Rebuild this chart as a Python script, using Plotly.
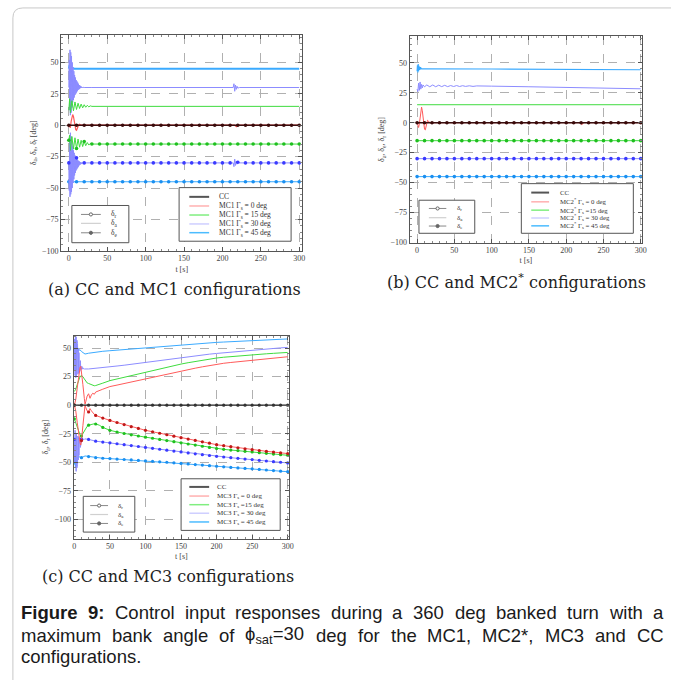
import re
import plotly.graph_objects as go

W, H = 676, 685

# ---------------------------------------------------------------- data
# common marker sampling times [s]
T_GRID = list(range(0, 301, 10))
T_HALF20 = [i * 0.5 for i in range(41)]      # 0 .. 20 s, 0.5 s steps
T_HALF15 = [i * 0.5 for i in range(31)]      # 0 .. 15 s, 0.5 s steps

# ---- (a) CC and MC1
A_CC_T = T_GRID
A_CC_V = [0.0] * len(T_GRID)

A_G0_T = [0, 2, 3, 4, 5, 6, 7, 8, 9, 10, 11, 12, 13, 14, 16, 20, 216, 218, 220, 222, 300]
A_G0_V = [0, -2, 3, 7, 8.5, 7, 3, -1, -3.5, -4, -3, -1, 0.5, 0.8, 0, 0, 0, -1.2, 0.3, 0, 0]

A_G15_UP_T = [0, 1, 2, 4, 6, 8, 10, 12, 14, 16, 18, 20, 22, 24, 26, 28, 30, 300]
A_G15_UP_V = [12, 21, 10, 19.5, 11.5, 18.5, 12.5, 17.5, 13.3, 16.8, 13.8, 16.3, 14.3, 15.8, 14.6, 15.4, 15, 15]
A_G15_LO_T = [0, 1, 2, 4, 6, 8, 10, 12, 14, 16, 18, 20, 22, 24, 26, 28] + T_GRID[3:]
A_G15_LO_V = [-12, -8, -20, -9, -19, -10, -18.5, -11, -17.5, -12, -17, -13, -16.3, -13.8, -15.8, -14.5] + [-15.0] * 28

A_G30_UP_T = T_HALF20 + [30, 214, 215, 216, 217, 218, 219, 220, 222, 300]
A_G30_UP_V = [30, 52, 12, 60, 8, 58, 10, 55, 14, 50, 18, 46, 20, 43, 22, 40, 24, 38, 25, 36,
              26, 35, 27, 34, 28, 33, 28.5, 32, 29, 31.5, 29.5, 31, 29.7, 30.6, 29.8, 30.4, 29.9, 30.2, 30, 30.1,
              30] + [30, 30, 33, 27, 32, 28.5, 31, 29.5, 30, 30]
A_G30_LO_T = T_HALF20 + T_GRID[3:22] + [214, 215, 216, 217, 218, 219, 220, 222] + T_GRID[23:]
A_G30_LO_V = [-30, -52, -10, -57, -6, -55, -9, -53, -13, -50, -17, -46, -20, -43, -22, -40, -24, -38, -25, -36,
              -26, -35, -27, -34, -28, -33, -28.5, -32, -29, -31.5, -29.5, -31, -29.7, -30.6, -29.8, -30.4, -29.9, -30.2, -30, -30.1,
              -30] + [-30.0] * 19 + [-30, -33, -27, -32, -28.5, -31, -29.5, -30] + [-30.0] * 8

A_G45_UP_T = [0, 1, 2, 3, 4, 5, 7, 300]
A_G45_UP_V = [45, 48, 42, 47, 44, 45.5, 45, 45]
A_G45_LO_T = [0, 1, 2, 3, 4, 5, 7] + T_GRID[1:]
A_G45_LO_V = [-45, -48, -42, -47, -44, -45.5, -45] + [-45.0] * 30

# ---- (b) CC and MC2*
B_CC_T = T_GRID
B_CC_V = [0.0] * len(T_GRID)

B_G0_T = [0, 1, 2, 3, 4, 5, 6, 7, 8, 9, 10, 11, 12, 13, 14, 15, 17, 20, 218, 221, 224, 300]
B_G0_V = [0, -2, -4, -1, 6, 12, 13, 10, 3, -3, -5.5, -6, -3, 0, 2, 1.5, 0, 0, 0, -1.5, 0, 0]

B_G15_UP_T = [0, 300]
B_G15_UP_V = [15, 15]
B_G15_LO_T = T_GRID
B_G15_LO_V = [-15.0] * len(T_GRID)

B_G30_UP_T = [0, 1, 2, 3, 4, 5, 6, 7, 8, 10, 13, 17, 21, 25, 29, 33, 37, 41, 45, 49,
              53, 57, 61, 65, 70, 75, 80, 90, 100, 150, 200, 250, 300]
B_G30_UP_V = [28, 26, 33, 27, 34, 28, 32, 29, 31.5, 30, 31.5, 30, 31.5, 30, 31.3, 30.1, 31.2, 30.1, 31, 30.2,
              31, 30.2, 30.9, 30.3, 30.8, 30.3, 30.7, 30.4, 30.5, 30, 29.4, 28.8, 28.3]
B_G30_LO_T = T_GRID
B_G30_LO_V = [-30.0] * len(T_GRID)

B_G45_UP_T = [0, 0.5, 1, 1.5, 2, 2.5, 3, 3.5, 4, 5, 6, 8, 10, 100, 200, 300]
B_G45_UP_V = [43, 48, 42, 49, 43, 47.5, 44, 46.5, 44.5, 45.8, 45, 45.3, 45, 44.8, 44.6, 44.2]
B_G45_LO_T = T_GRID
B_G45_LO_V = [-45.0] * len(T_GRID)

# ---- (c) CC and MC3
C_CC_T = T_GRID
C_CC_V = [0.0] * len(T_GRID)

C_G0_T = [0, 2, 4, 6, 8, 9, 10, 12, 14, 15, 16, 18, 20, 22, 24, 26, 28, 30] + T_GRID[4:]
C_G0_UP_V = [0, 5, 15, 26, 33, 34, 30, 18, 6, 1, 3, 8, 10, 6, 9, 10.5, 9.5, 11.5,
             14, 16.3, 17.6, 19, 20.4, 21.7, 23, 24.4, 25.8, 27.2, 28.6, 30, 31.2, 32.4, 33.6, 34.8,
             36, 36.7, 37.4, 38.1, 38.8, 39.5, 40.1, 40.7, 41.3, 41.8, 42.4]
C_G0_LO_V = [0, -5, -15, -26, -33, -35, -31, -18, -6, 0, -2, -5, -6, -3, -5, -7, -8, -9,
             -11.3, -13.4, -15.2, -17, -18.8, -20.4, -22, -23.3, -24.6, -25.9, -27.2, -28.5, -29.7, -30.9, -32.1, -33.3,
             -34.6, -35.5, -36.4, -37.3, -38.2, -39, -39.7, -40.4, -41.1, -41.8, -42.4]

C_G15_T = [0, 2, 4, 6, 8, 10, 12, 14, 16, 18, 20, 25, 28, 30, 35, 40] + T_GRID[5:]
C_G15_UP_V = [12, 14, 18, 22, 25, 26, 25, 23, 21, 19.5, 19, 17.5, 17, 17.2, 18, 19.3,
              21.5, 23, 24.5, 26, 27.4, 28.8, 30.3, 31.7, 33.1, 34.5, 36, 37.2, 38.3, 39.3, 40.3, 41.3,
              42, 42.6, 43.1, 43.7, 44.2, 44.6, 45, 45.4, 45.8, 46.2]
C_G15_LO_V = [-12, -16, -20, -24, -26, -27, -25, -22, -20, -18.5, -17.5, -16.5, -16.3, -16.5, -17.5, -19.5,
              -22, -23.5, -24.8, -26, -27, -28, -29, -30, -31, -32, -33, -34, -35, -36, -37, -38,
              -38.7, -39.3, -39.8, -40.4, -41, -41.6, -42.2, -42.8, -43.4, -43.9]

C_G30_T = T_HALF15 + T_GRID[2:]
C_G30_UP_V = [30, 58, 26, 62, 24, 60, 25, 57, 26, 54, 27, 50, 28, 46, 29, 42, 30, 39, 31, 36,
              31.5, 34, 31.5, 33, 31.5, 32.5, 31.5, 32, 31.6, 31.8, 31.7,
              31.7, 32.5, 33.2, 33.7, 34.3, 35, 35.8, 36.8, 38, 38.8, 39.6, 40.4, 41.2, 41.9, 42.6,
              43.3, 44, 44.7, 45.3, 45.9, 46.5, 47, 47.6, 48.3, 48.8, 49.3, 49.8, 50.2, 50.6]
C_G30_LO_V = [-30, -50, -22, -56, -24, -58, -25, -55, -26, -52, -27, -48, -28, -44, -29, -40, -29.5, -37, -29.5, -34,
              -29.5, -32, -29.5, -31, -29.5, -30.5, -29.5, -30, -29.5, -29.8, -29.5,
              -30, -31.5, -32.3, -33, -33.8, -34.6, -35.4, -36.2, -37, -37.8, -38.6, -39.4, -40.2, -41, -41.8,
              -42.6, -43.4, -44.1, -44.8, -45.4, -46, -46.6, -47.2, -47.7, -48.3, -48.9, -49.5, -50, -50.6]

C_G45_T = [0, 0.5, 1, 1.5, 2, 2.5, 3, 3.5, 4, 5, 6, 8, 10, 15] + T_GRID[2:]
C_G45_UP_V = [45, 55, 42, 58, 44, 56, 46, 52, 47, 50, 48, 48.5, 47, 44.8,
              45.5, 46.5, 47.2, 47.7, 48.2, 48.7, 49.2, 49.6, 50, 50.6, 51.2, 51.8, 52.4, 53,
              53.4, 53.9, 54.3, 54.7, 55, 55.3, 55.6, 55.9, 56.2, 56.4, 56.8, 57.1, 57.4, 57.7, 58]
C_G45_LO_V = [-45, -52, -42, -55, -44, -53, -46, -50, -46, -47, -45, -45.5, -46, -44.5,
              -45, -46, -46.5, -46.8, -47.2, -47.6, -48, -48.4, -48.8, -49.2, -49.6, -50, -50.5, -51,
              -51.5, -52, -52.5, -53, -53.5, -54, -54.5, -55, -55.4, -55.8, -56.3, -56.8, -57.3, -57.8, -58.3]

X_TICKS = [0, 50, 100, 150, 200, 250, 300]
Y_TICKS = [-100, -75, -50, -25, 0, 25, 50]

# ---------------------------------------------------------------- styling
COL = {
    "g0": "#ff5a5a", "g0m": "#c01818",
    "g15": "#3fdc3f", "g15m": "#1fbf1f",
    "g30": "#8c8cff", "g30m": "#3a3aff",
    "g45": "#3aaaff", "g45m": "#1a8ff0",
}
KEY_COL = ["#555555", "#ffb0b0", "#80ee80", "#cfcfff", "#4cbcff"]

SERIF = "Liberation Serif"


def px(x):
    return x / W


def py(y):
    return 1 - y / H


fig = go.Figure()


def add_curve(t, v, ax, color, width=1.0, mcolor=None, msize=3.6, name=None):
    fig.add_trace(go.Scatter(x=t, y=v, mode="lines", name=name,
                             line=dict(color=color, width=width),
                             xaxis=ax[0], yaxis=ax[1], showlegend=False, hoverinfo="skip"))
    if mcolor:
        mt = [a for a in t if a % 10 == 0]
        mv = [b for a, b in zip(t, v) if a % 10 == 0]
        fig.add_trace(go.Scatter(x=mt, y=mv, mode="markers", name=name,
                                 marker=dict(color=mcolor, size=msize, line=dict(width=0)),
                                 xaxis=ax[0], yaxis=ax[1], showlegend=False, hoverinfo="skip"))


AX_A = ("x", "y")
AX_B = ("x2", "y2")
AX_C = ("x3", "y3")

# (a)
add_curve(A_G45_UP_T, A_G45_UP_V, AX_A, COL["g45"], 2.0, name="MC1 45 up")
add_curve(A_G45_LO_T, A_G45_LO_V, AX_A, COL["g45"], 1.2, COL["g45m"], name="MC1 45 lo")
add_curve(A_G30_UP_T, A_G30_UP_V, AX_A, COL["g30"], 1.0, name="MC1 30 up")
add_curve(A_G30_LO_T, A_G30_LO_V, AX_A, COL["g30"], 1.0, COL["g30m"], name="MC1 30 lo")
add_curve(A_G15_UP_T, A_G15_UP_V, AX_A, COL["g15"], 1.0, name="MC1 15 up")
add_curve(A_G15_LO_T, A_G15_LO_V, AX_A, COL["g15"], 1.0, COL["g15m"], name="MC1 15 lo")
add_curve(A_G0_T, A_G0_V, AX_A, COL["g0"], 1.2, name="MC1 0")
add_curve(A_CC_T, A_CC_V, AX_A, "#3a1010", 1.6, "#3a0a0a", name="CC")

# (b)
add_curve(B_G45_UP_T, B_G45_UP_V, AX_B, COL["g45"], 1.2, name="MC2 45 up")
add_curve(B_G45_LO_T, B_G45_LO_V, AX_B, COL["g45"], 1.0, COL["g45m"], name="MC2 45 lo")
add_curve(B_G30_UP_T, B_G30_UP_V, AX_B, COL["g30"], 1.0, name="MC2 30 up")
add_curve(B_G30_LO_T, B_G30_LO_V, AX_B, COL["g30"], 1.0, COL["g30m"], name="MC2 30 lo")
add_curve(B_G15_UP_T, B_G15_UP_V, AX_B, COL["g15"], 1.0, name="MC2 15 up")
add_curve(B_G15_LO_T, B_G15_LO_V, AX_B, COL["g15"], 1.0, COL["g15m"], name="MC2 15 lo")
add_curve(B_G0_T, B_G0_V, AX_B, COL["g0"], 1.0, name="MC2 0")
add_curve(B_CC_T, B_CC_V, AX_B, "#3a1010", 1.4, "#3a0a0a", name="CC")

# (c)
add_curve(C_G45_T, C_G45_UP_V, AX_C, COL["g45"], 1.0, name="MC3 45 up")
add_curve(C_G45_T, C_G45_LO_V, AX_C, COL["g45"], 1.0, COL["g45m"], msize=3.2, name="MC3 45 lo")
add_curve(C_G30_T, C_G30_UP_V, AX_C, COL["g30"], 1.0, name="MC3 30 up")
add_curve(C_G30_T, C_G30_LO_V, AX_C, COL["g30"], 1.0, COL["g30m"], msize=3.2, name="MC3 30 lo")
add_curve(C_G15_T, C_G15_UP_V, AX_C, COL["g15"], 1.0, name="MC3 15 up")
add_curve(C_G15_T, C_G15_LO_V, AX_C, COL["g15"], 1.0, COL["g15m"], msize=3.2, name="MC3 15 lo")
add_curve(C_G0_T, C_G0_UP_V, AX_C, COL["g0"], 1.0, name="MC3 0 up")
add_curve(C_G0_T, C_G0_LO_V, AX_C, COL["g0"], 1.0, COL["g0m"], msize=3.2, name="MC3 0 lo")
add_curve(C_CC_T, C_CC_V, AX_C, "#222222", 1.4, "#333333", msize=3.2, name="CC")


# ---------------------------------------------------------------- axes
def xaxis(dom, rng, anchor):
    return dict(domain=dom, range=rng, anchor=anchor, tickvals=X_TICKS,
                showline=True, linecolor="#555", linewidth=1, mirror="allticks",
                ticks="inside", ticklen=4, tickcolor="#555",
                minor=dict(ticks="inside", ticklen=2, dtick=10, tickcolor="#888", showgrid=False),
                showgrid=True, gridcolor="#b0b0b0", griddash="dash", gridwidth=0.8, zeroline=False,
                tickfont=dict(family=SERIF, size=8, color="#444"),
                title=dict(text="t [s]", font=dict(family=SERIF, size=8, color="#444"), standoff=3))


def yaxis(dom, rng, anchor, title):
    return dict(domain=dom, range=rng, anchor=anchor, tickvals=Y_TICKS,
                showline=True, linecolor="#555", linewidth=1, mirror="allticks",
                ticks="inside", ticklen=4, tickcolor="#555",
                minor=dict(ticks="inside", ticklen=2, dtick=5, tickcolor="#888", showgrid=False),
                showgrid=True, gridcolor="#b0b0b0", griddash="dash", gridwidth=0.8, zeroline=False,
                tickfont=dict(family=SERIF, size=8, color="#444"),
                title=dict(text=title, font=dict(family=SERIF, size=8, color="#444"), standoff=4))


YT_AE = "δ<sub>a</sub>, δ<sub>e</sub>, δ<sub>r</sub> [deg]"
YT_C = "δ<sub>a</sub>, δ<sub>r</sub> [deg]"

layout = dict(
    width=W, height=H, margin=dict(l=0, r=0, t=0, b=0),
    paper_bgcolor="white", plot_bgcolor="white", showlegend=False,
    xaxis=xaxis([px(60.7), px(304)], [-10, 304], "y"),
    yaxis=yaxis([py(252.7), py(35)], [-100, 72], "x", YT_AE),
    xaxis2=xaxis([px(412.3), px(647)], [-10, 302], "y2"),
    yaxis2=yaxis([py(244.3), py(36.7)], [-100, 72], "x2", YT_AE),
    xaxis3=xaxis([px(73.3), px(290.7)], [-1, 302], "y3"),
    yaxis3=yaxis([py(542.7), py(338)], [-117, 61], "x3", YT_C),
)
fig.update_layout(**layout)

shapes = []
annotations = []

# page frame
shapes.append(dict(type="path", xref="paper", yref="paper",
                   path=f"M {px(12)},{py(685)} L {px(12)},{py(18)} Q {px(12)},{py(8)} {px(22)},{py(8)} L {px(676)},{py(8)}",
                   line=dict(color="#c8c8c8", width=1)))


def legend_box(x0, y0, x1, y1):
    shapes.append(dict(type="rect", xref="paper", yref="paper", x0=px(x0), x1=px(x1), y0=py(y1), y1=py(y0),
                       line=dict(color="#555", width=1), fillcolor="white", layer="above"))


def key_line(x0, x1, y, color, width=1.5):
    shapes.append(dict(type="line", xref="paper", yref="paper", x0=px(x0), x1=px(x1), y0=py(y), y1=py(y),
                       line=dict(color=color, width=width), layer="above"))


def key_dot(x, y, r, color, filled=True):
    shapes.append(dict(type="circle", xref="paper", yref="paper", x0=px(x - r), x1=px(x + r),
                       y0=py(y + r), y1=py(y - r), line=dict(color=color, width=1),
                       fillcolor=color if filled else "white", layer="above"))


def label(x, y, text, size=8.0, family=SERIF, color="#333", anchor="left"):
    annotations.append(dict(x=px(x), y=py(y), xref="paper", yref="paper", text=text, showarrow=False,
                            xanchor=anchor, yanchor="middle", borderpad=0,
                            font=dict(family=family, size=size, color=color)))


STYLE_LABELS = ["δ<sub>r</sub>", "δ<sub>a</sub>", "δ<sub>e</sub>"]


def style_legend(box, rows, kx0, kx1, lx, size):
    legend_box(*box)
    for i, (yy, lab) in enumerate(zip(rows, STYLE_LABELS)):
        if i == 1:
            key_line(kx0, kx1, yy, "#d0d0d0", 1.2)
        else:
            key_line(kx0, kx1, yy, "#888888", 1.0)
            key_dot((kx0 + kx1) / 2, yy, 1.6, "#666666", filled=(i == 2))
        label(lx, yy, lab, size=size)


def color_legend(box, rows, kx0, kx1, lx, prefix, suffixes, size):
    legend_box(*box)
    texts = ["CC"] + [f"{prefix} Γ<sub>s</sub> {s}" for s in suffixes]
    for i, (yy, txt) in enumerate(zip(rows, texts)):
        key_line(kx0, kx1, yy, KEY_COL[i], 2.0 if i == 0 else 1.5)
        label(lx, yy, txt, size=size)


# (a) legends
style_legend((71.5, 207, 129, 244.5), [216, 225, 234.5], 80.7, 100.7, 110, 7.5)
color_legend((179.7, 189, 292.7, 243), [198.3, 207.5, 216.6, 225.6, 234.4], 190, 210, 219.3,
             "MC1", ["= 0 deg", "= 15 deg", "= 30 deg", "= 45 deg"], 7.5)
# (b) legends
style_legend((421.7, 201.7, 478, 235), [210, 219.3, 227.7], 431.7, 449.3, 459, 7)
color_legend((525, 185, 638, 235), [194, 203.3, 211.7, 219.6, 227.5], 535, 553, 562.7,
             "MC2<sup>*</sup>", ["= 0 deg", "=15 deg", "= 30 deg", "= 45 deg"], 6.8)
# (c) legends
style_legend((83, 500, 135, 536), [509.3, 518.3, 527.3], 90, 108, 116.7, 7)
color_legend((181.7, 482.3, 281.7, 534.3), [490.5, 499.7, 508.4, 517, 525.8], 190, 210, 216.7,
             "MC3", ["= 0 deg", "=15 deg", "= 30 deg", "= 45 deg"], 7)

# sub-figure captions
CAP_FONT = "DejaVu Serif"
label(175, 292, "(a) CC and MC1 configurations", size=16, family=CAP_FONT, color="#222", anchor="center")
label(520, 284, "(b) CC and MC2<sup>*</sup> configurations", size=16, family=CAP_FONT, color="#222", anchor="center")
label(168, 581, "(c) CC and MC3 configurations", size=16, family=CAP_FONT, color="#222", anchor="center")

# ---------------------------------------------------------------- figure caption (justified)
ARIAL_W = {
    " ": 278, ",": 278, ".": 278, ":": 278, "=": 584, "*": 389, "ϕ": 600,
    "0": 556, "1": 556, "2": 556, "3": 556, "4": 556, "5": 556, "6": 556, "7": 556, "8": 556, "9": 556,
    "a": 556, "b": 556, "c": 500, "d": 556, "e": 556, "f": 278, "g": 556, "h": 556, "i": 222, "j": 222,
    "k": 500, "l": 222, "m": 833, "n": 556, "o": 556, "p": 556, "q": 556, "r": 333, "s": 500, "t": 278,
    "u": 556, "v": 500, "w": 722, "x": 500, "y": 500, "z": 500,
    "C": 722, "F": 611, "M": 833,
}
ARIAL_BOLD_W = {"F": 611, "i": 278, "g": 611, "u": 611, "r": 389, "e": 556, "9": 556, ":": 333}


def word_width(word, size):
    bold = word.startswith("<b>")
    table = ARIAL_BOLD_W if bold else ARIAL_W
    total = 0.0
    for part in re.split(r"(<sub>.*?</sub>)", re.sub(r"</?b>", "", word)):
        if part.startswith("<sub>"):
            inner = part[5:-6]
            total += 0.7 * sum(ARIAL_W.get(c, 556) for c in inner)
        else:
            total += sum(table.get(c, 556) for c in part)
    return total * size / 1000.0


CAP_SIZE = 18.5
CAP_LINES = [
    (617, True, ["<b>Figure</b>", "<b>9:</b>", "Control", "input", "responses", "during", "a", "360", "deg",
                 "banked", "turn", "with", "a"]),
    (640, True, ["maximum", "bank", "angle", "of", "ϕ<sub>sat</sub>=30", "deg", "for", "the", "MC1,", "MC2*,",
                 "MC3", "and", "CC"]),
    (661, False, ["configurations."]),
]
X_LEFT, X_RIGHT = 19, 667
for yy, justify, words in CAP_LINES:
    widths = [word_width(w, CAP_SIZE) for w in words]
    if justify and len(words) > 1:
        gap = (X_RIGHT - X_LEFT - sum(widths)) / (len(words) - 1)
    else:
        gap = 0.278 * CAP_SIZE
    x = X_LEFT
    for w, wd in zip(words, widths):
        label(x, yy, w, size=CAP_SIZE, family="Liberation Sans", color="#1a1a1a")
        x += wd + gap

fig.update_layout(shapes=shapes, annotations=annotations)
fig.write_html("out.html")
